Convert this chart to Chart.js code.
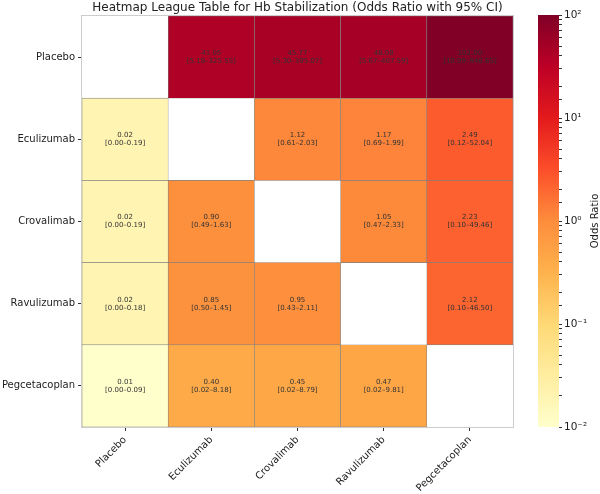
<!DOCTYPE html>
<html>
<head>
<meta charset="utf-8">
<script src="https://cdn.jsdelivr.net/npm/chart.js@4"></script>
<style>
  body { margin: 0; background: #fff; }
  #wrap { position: relative; width: 600px; height: 494px; }
  #heat { position: absolute; left: 0; top: 0; }
  #cbar { position: absolute; left: 510px; top: 0; }
</style>
</head>
<body>
<div id="wrap">
  <canvas id="heat" width="600" height="494"></canvas>
  <canvas id="cbar" width="90" height="494"></canvas>
</div>
<script>
const treatments = ['Placebo', 'Eculizumab', 'Crovalimab', 'Ravulizumab', 'Pegcetacoplan'];

// odds ratio, row vs column (null on the diagonal)
const orRows = [
  [null, 41.05, 45.77, 48.08, 102.00],
  [0.02, null, 1.12, 1.17, 2.49],
  [0.02, 0.90, null, 1.05, 2.23],
  [0.02, 0.85, 0.95, null, 2.12],
  [0.01, 0.40, 0.45, 0.47, null]
];
const ciLow = [
  [null, 5.18, 5.30, 5.67, 10.99],
  [0.00, null, 0.61, 0.69, 0.12],
  [0.00, 0.49, null, 0.47, 0.10],
  [0.00, 0.50, 0.43, null, 0.10],
  [0.00, 0.02, 0.02, 0.02, null]
];
const ciHigh = [
  [null, 325.55, 395.07, 407.59, 946.65],
  [0.19, null, 2.03, 1.99, 52.04],
  [0.19, 1.63, null, 2.33, 49.46],
  [0.18, 1.45, 2.11, null, 46.50],
  [0.09, 8.18, 8.79, 9.81, null]
];
const cbTicks = [0.01, 0.1, 1, 10, 100];
const cbTickLabels = ['10\u207B\u00B2', '10\u207B\u00B9', '10\u2070', '10\u00B9', '10\u00B2'];

// YlOrRd
const ylorrd = ['#ffffcc', '#ffeda0', '#fed976', '#feb24c', '#fd8d3c', '#fc4e2a', '#e31a1c', '#bd0026', '#800026'];

function hexRgb(h) {
  return [parseInt(h.slice(1, 3), 16), parseInt(h.slice(3, 5), 16), parseInt(h.slice(5, 7), 16)];
}

function colorFor(v) {
  let t = (Math.log10(v) + 2) / 4;
  t = Math.max(0, Math.min(1, t));
  const p = t * (ylorrd.length - 1);
  const i = Math.min(Math.floor(p), ylorrd.length - 2);
  const f = p - i;
  const a = hexRgb(ylorrd[i]), b = hexRgb(ylorrd[i + 1]);
  const c = a.map((x, k) => Math.round(x + (b[k] - x) * f));
  return `rgb(${c[0]},${c[1]},${c[2]})`;
}

const FONT = 'DejaVu Sans';

const datasets = orRows.map((row, r) => ({
  data: row.map(v => v == null ? null : [r, r + 1]),
  backgroundColor: row.map(v => v == null ? '#ffffff' : colorFor(v)),
  borderColor: '#808080',
  borderWidth: 0.6,
  borderSkipped: false,
  grouped: false,
  barPercentage: 1,
  categoryPercentage: 1
}));

const cellText = {
  id: 'cellText',
  afterDatasetsDraw(chart) {
    const { ctx, scales: { x, y }, chartArea } = chart;
    ctx.save();
    ctx.font = `7px "${FONT}"`;
    ctx.fillStyle = '#333';
    ctx.textAlign = 'center';
    ctx.textBaseline = 'middle';
    orRows.forEach((row, r) => {
      row.forEach((v, c) => {
        if (v == null) return;
        const px = x.getPixelForValue(c);
        const py = y.getPixelForValue(r + 0.5);
        ctx.fillText(v.toFixed(2), px, py - 4);
        ctx.fillText(`[${ciLow[r][c].toFixed(2)}\u2013${ciHigh[r][c].toFixed(2)}]`, px, py + 4);
      });
    });
    // outer frame
    ctx.strokeStyle = '#cccccc';
    ctx.lineWidth = 1;
    ctx.strokeRect(chartArea.left - 0.5, chartArea.top - 0.5, chartArea.width + 1, chartArea.height + 1);
    // title
    ctx.font = `12px "${FONT}"`;
    ctx.fillStyle = '#222';
    ctx.fillText('Heatmap League Table for Hb Stabilization (Odds Ratio with 95% CI)',
      (chartArea.left + chartArea.right) / 2, 8);
    ctx.restore();
  }
};

new Chart(document.getElementById('heat'), {
  type: 'bar',
  data: { labels: treatments, datasets: datasets },
  options: {
    responsive: false,
    animation: false,
    layout: { padding: { left: 0, right: 87, top: 16, bottom: 0 } },
    plugins: { legend: { display: false }, tooltip: { enabled: false } },
    scales: {
      x: {
        type: 'category',
        offset: true,
        grid: { display: true, offset: false, drawOnChartArea: false, tickLength: 4, tickColor: '#333' },
        border: { display: false },
        ticks: {
          maxRotation: 45, minRotation: 45, autoSkip: false,
          font: { family: FONT, size: 10 }, color: '#222', padding: 3
        },
        afterFit(s) { s.height = 67; }
      },
      y: {
        type: 'linear',
        min: 0, max: 5, reverse: true,
        afterBuildTicks(s) { s.ticks = [0.5, 1.5, 2.5, 3.5, 4.5].map(v => ({ value: v })); },
        grid: { display: true, drawOnChartArea: false, tickLength: 4, tickColor: '#333' },
        border: { display: false },
        ticks: {
          autoSkip: false,
          font: { family: FONT, size: 10 }, color: '#222', padding: 3,
          callback: (v, i) => treatments[i]
        },
        afterFit(s) { s.width = 82; }
      }
    }
  },
  plugins: [cellText]
});

const colorbarFill = {
  id: 'colorbarFill',
  beforeDatasetsDraw(chart) {
    const { ctx, chartArea: a } = chart;
    const g = ctx.createLinearGradient(0, a.bottom, 0, a.top);
    ylorrd.forEach((c, i) => g.addColorStop(i / (ylorrd.length - 1), c));
    ctx.save();
    ctx.fillStyle = g;
    ctx.fillRect(a.left, a.top, a.width, a.height);
    ctx.font = `10px "${FONT}"`;
    ctx.fillStyle = '#222';
    ctx.textAlign = 'center';
    ctx.textBaseline = 'middle';
    ctx.translate(85, (a.top + a.bottom) / 2);
    ctx.rotate(-Math.PI / 2);
    ctx.fillText('Odds Ratio', 0, 0);
    ctx.restore();
  }
};

new Chart(document.getElementById('cbar'), {
  type: 'bar',
  data: { labels: [''], datasets: [{ data: [] }] },
  options: {
    responsive: false,
    animation: false,
    layout: { padding: { left: 28, right: 0, top: 15, bottom: 67 } },
    plugins: { legend: { display: false }, tooltip: { enabled: false } },
    scales: {
      x: { display: false },
      y: {
        type: 'logarithmic',
        position: 'right',
        min: 0.01, max: 100,
        grid: { display: true, drawOnChartArea: false, tickLength: 3, tickColor: '#333' },
        border: { display: false },
        ticks: {
          autoSkip: false,
          font: { family: FONT, size: 10.5 }, color: '#222', padding: 2,
          callback: (v) => {
            const i = cbTicks.findIndex(t => Math.abs(t - v) < t * 1e-6);
            return i >= 0 ? cbTickLabels[i] : '';
          }
        },
        afterFit(s) { s.width = 41; }
      }
    }
  },
  plugins: [colorbarFill]
});
</script>
</body>
</html>
